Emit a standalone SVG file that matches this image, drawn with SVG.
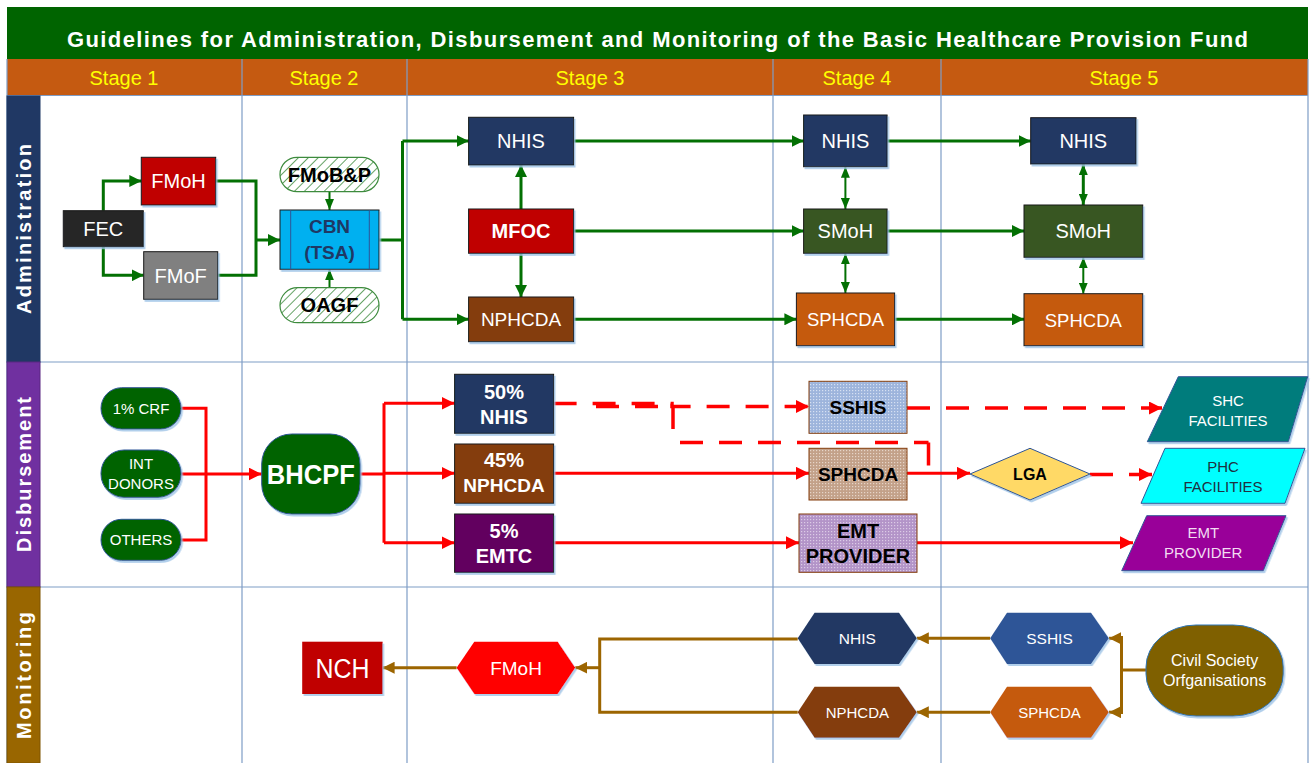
<svg xmlns="http://www.w3.org/2000/svg" width="1312" height="763" viewBox="0 0 1312 763">
<style>
text{font-family:"Liberation Sans",Arial,sans-serif;text-anchor:middle}
.w{fill:#fff}
.b{font-weight:bold}
.grid{stroke:#7F9DC6;stroke-width:1.2;fill:none}
.g{stroke:#037003;stroke-width:3;fill:none}
.gs{stroke:#037003;stroke-width:2;fill:none}
.r{stroke:#FF0000;stroke-width:3;fill:none}
.rd{stroke:#FF0000;stroke-width:3.5;fill:none;stroke-dasharray:23 16}
.br{stroke:#9C6500;stroke-width:3;fill:none}
.box{stroke:#1a1a1a;stroke-width:1;filter:url(#sh)}
.lane{font-weight:bold;font-size:20px;fill:#fff}
</style>
<defs>
<filter id="sh" x="-10%" y="-10%" width="130%" height="130%"><feDropShadow dx="1.5" dy="2" stdDeviation="0.6" flood-color="#9DC3E6" flood-opacity="0.8"/></filter>
<marker id="aG" markerUnits="userSpaceOnUse" markerWidth="12" markerHeight="12" refX="12" refY="6" orient="auto"><path d="M0,0L12,6L0,12z" fill="#037003"/></marker>
<marker id="aGs" markerUnits="userSpaceOnUse" markerWidth="11" markerHeight="9" refX="11" refY="4.5" orient="auto-start-reverse"><path d="M0,0L11,4.5L0,9z" fill="#037003"/></marker>
<marker id="aR" markerUnits="userSpaceOnUse" markerWidth="13" markerHeight="13" refX="13" refY="6.5" orient="auto"><path d="M0,0L13,6.5L0,13z" fill="#FF0000"/></marker>
<marker id="aB" markerUnits="userSpaceOnUse" markerWidth="12" markerHeight="12" refX="12" refY="6" orient="auto"><path d="M0,0L12,6L0,12z" fill="#9C6500"/></marker>
<pattern id="hatch" patternUnits="userSpaceOnUse" width="7" height="7" patternTransform="rotate(45)"><rect width="7" height="7" fill="#fff"/><line x1="0" y1="0" x2="0" y2="7" stroke="#3D8B3D" stroke-width="1.6"/></pattern>
<pattern id="pBlue" patternUnits="userSpaceOnUse" width="3" height="3"><rect width="3" height="3" fill="#9DB4DC"/><rect width="1.2" height="1.2" fill="#D6E0F2"/></pattern>
<pattern id="pTan" patternUnits="userSpaceOnUse" width="3" height="3"><rect width="3" height="3" fill="#C3A189"/><rect width="1.2" height="1.2" fill="#E6D5C8"/></pattern>
<pattern id="pLav" patternUnits="userSpaceOnUse" width="3" height="3"><rect width="3" height="3" fill="#B394C8"/><rect width="1.2" height="1.2" fill="#DCCBE6"/></pattern>
</defs>

<rect width="1312" height="763" fill="#fff"/>

<g id="frame">
<rect x="7" y="7" width="1301" height="52" fill="#006400"/>
<text x="657.5" y="47" class="w b" font-size="22" textLength="1181" lengthAdjust="spacing">Guidelines for Administration, Disbursement and Monitoring of the Basic Healthcare Provision Fund</text>
<rect x="7" y="59" width="1301" height="36" fill="#C55A11"/>
<g fill="#FFFF00" font-size="20">
<text x="124" y="85">Stage 1</text>
<text x="324" y="85">Stage 2</text>
<text x="590" y="85">Stage 3</text>
<text x="857" y="85">Stage 4</text>
<text x="1124" y="85">Stage 5</text>
</g>
<path class="grid" d="M7,95.5H1308M7,362H1308M7,587H1308M242,59V763M407,59V763M773,59V763M941,59V763M1308,59V763M7,59V763"/>
<rect x="7" y="96" width="33" height="266" fill="#203864" stroke="#1F3864"/>
<rect x="7" y="362" width="33" height="225" fill="#7030A0" stroke="#5B2682"/>
<rect x="7" y="587" width="33" height="176" fill="#996600" stroke="#7F5500"/>
<text class="lane" transform="translate(23.5,229) rotate(-90)" y="7.5" textLength="170" lengthAdjust="spacing">Administration</text>
<text class="lane" transform="translate(23.5,474.5) rotate(-90)" y="7.5" textLength="155" lengthAdjust="spacing">Disbursement</text>
<text class="lane" transform="translate(23.5,675.5) rotate(-90)" y="7.5" textLength="127" lengthAdjust="spacing">Monitoring</text>
</g>

<g id="connectors">
<path class="g" d="M103.3,210.7V181H141.3" marker-end="url(#aG)"/>
<path class="g" d="M103.3,246.7V275.3H143.7" marker-end="url(#aG)"/>
<path class="g" d="M215.7,181H256V275.3H217.7"/>
<path class="g" d="M256,240H280" marker-end="url(#aG)"/>
<path class="gs" d="M329.5,191.7V210" marker-end="url(#aGs)"/>
<path class="gs" d="M329.5,287.7V269.3" marker-end="url(#aGs)"/>
<path class="g" d="M379,240H402.5M402.5,141V319.3"/>
<path class="g" d="M402.5,141H468.6" marker-end="url(#aG)"/>
<path class="g" d="M402.5,319.3H468.6" marker-end="url(#aG)"/>
<path class="g" d="M521,209V165" marker-end="url(#aG)"/>
<path class="g" d="M521,253.3V297" marker-end="url(#aG)"/>
<path class="g" d="M573.6,141H803.6" marker-end="url(#aG)"/>
<path class="g" d="M573.6,231H803.6" marker-end="url(#aG)"/>
<path class="g" d="M573.6,319.3H796.4" marker-end="url(#aG)"/>
<path class="g" d="M887,141H1030.7" marker-end="url(#aG)"/>
<path class="g" d="M887,231H1024" marker-end="url(#aG)"/>
<path class="g" d="M894.6,319.3H1024" marker-end="url(#aG)"/>
<path class="gs" d="M845.4,166.7V209" marker-start="url(#aGs)" marker-end="url(#aGs)"/>
<path class="gs" d="M845.4,253.3V293" marker-start="url(#aGs)" marker-end="url(#aGs)"/>
<path class="g" d="M1083.3,164V205" marker-start="url(#aGs)" marker-end="url(#aGs)"/>
<path class="gs" d="M1083.3,257.3V293.7" marker-start="url(#aGs)" marker-end="url(#aGs)"/>

<path class="r" d="M181,408.3H206V540H181"/>
<path class="r" d="M181,474H261.7" marker-end="url(#aR)"/>
<path class="r" d="M360,474H384M384,403.3V542.7"/>
<path class="r" d="M384,403.3H454.6" marker-end="url(#aR)"/>
<path class="r" d="M384,473.3H454.6" marker-end="url(#aR)"/>
<path class="r" d="M384,542.7H454.6" marker-end="url(#aR)"/>
<path class="r" d="M553.6,473.3H809" marker-end="url(#aR)"/>
<path class="r" d="M553.6,542.7H799" marker-end="url(#aR)"/>
<path class="r" d="M907,473.3H970" marker-end="url(#aR)"/>
<path class="r" d="M917,542.7H1133" marker-end="url(#aR)"/>
<path class="rd" d="M553.6,403.5H672V406.5H809" marker-end="url(#aR)"/>
<path class="rd" d="M590,406.5H672" stroke-dashoffset="-6"/>
<path class="rd" d="M673,406V433"/>
<path class="rd" d="M680,442.5H928.5"/>
<path class="rd" d="M928.5,442.5V466"/>
<path class="rd" d="M907,408H1162" marker-end="url(#aR)"/>
<path class="rd" d="M1090,474.5H1152" marker-end="url(#aR)"/>

<path class="br" d="M456.6,667.7H382.6" marker-end="url(#aB)"/>
<path class="br" d="M797.7,639H599.7V712.3H797.7"/>
<path class="br" d="M599.7,667.7H575.3" marker-end="url(#aB)"/>
<path class="br" d="M990.2,638.3H916.8" marker-end="url(#aB)"/>
<path class="br" d="M990.2,712.2H916.8" marker-end="url(#aB)"/>
<path class="br" d="M1146,670H1121.5M1121.5,636V714"/>
<path class="br" d="M1121.5,638.3H1109" marker-end="url(#aB)"/>
<path class="br" d="M1121.5,712.2H1109" marker-end="url(#aB)"/>
</g>

<g id="FEC"><rect class="box" x="63.3" y="210.7" width="80" height="36" fill="#262626" stroke="#7f7f7f"/><text x="103.3" y="235.5" class="w" font-size="20">FEC</text></g>
<g id="FMoH"><rect class="box" x="141.3" y="157.3" width="74.4" height="47.7" fill="#C00000"/><text x="178.5" y="188" class="w" font-size="20">FMoH</text></g>
<g id="FMoF"><rect class="box" x="143.7" y="251.7" width="74" height="47.6" fill="#808080"/><text x="180.7" y="282.5" class="w" font-size="20">FMoF</text></g>
<g id="FMoBP"><rect x="280" y="157.3" width="99" height="34.4" rx="17" fill="url(#hatch)" stroke="#3D8B3D" stroke-width="1.2"/><text x="329.5" y="181.5" class="b" font-size="20" fill="#000">FMoB&amp;P</text></g>
<g id="CBN"><rect class="box" x="280" y="210" width="99" height="59.3" fill="#00B0F0" stroke="#2F5597"/><path d="M290.7,210V269.3M369.3,210V269.3" stroke="#2F5597" stroke-width="1"/><text x="329.5" y="233.3" class="b" font-size="19" fill="#1F3864">CBN</text><text x="329.5" y="259" class="b" font-size="19" fill="#1F3864">(TSA)</text></g>
<g id="OAGF"><rect x="280" y="287.7" width="99" height="35" rx="17.5" fill="url(#hatch)" stroke="#3D8B3D" stroke-width="1.2"/><text x="329.5" y="312" class="b" font-size="20" fill="#000">OAGF</text></g>

<g id="NHIS3"><rect class="box" x="468.6" y="117.3" width="105" height="47.7" fill="#203864"/><text x="521" y="148" class="w" font-size="20">NHIS</text></g>
<g id="MFOC"><rect class="box" x="468.6" y="209" width="105" height="44.3" fill="#C00000"/><text x="521" y="238" class="w b" font-size="20">MFOC</text></g>
<g id="NPHCDA3"><rect class="box" x="468.6" y="297" width="105" height="44.7" fill="#843C0C"/><text x="521" y="326.3" class="w" font-size="19">NPHCDA</text></g>
<g id="NHIS4"><rect class="box" x="803.6" y="115" width="83.5" height="51.7" fill="#203864"/><text x="845.4" y="148" class="w" font-size="20">NHIS</text></g>
<g id="SMoH4"><rect class="box" x="803.6" y="209" width="83.5" height="44.3" fill="#375623"/><text x="845.4" y="238" class="w" font-size="20">SMoH</text></g>
<g id="SPHCDA4"><rect class="box" x="796.4" y="293" width="98.2" height="52.7" fill="#C55A11"/><text x="845.5" y="326" class="w" font-size="18.5">SPHCDA</text></g>
<g id="NHIS5"><rect class="box" x="1030.7" y="117.7" width="105.3" height="46.3" fill="#203864"/><text x="1083.3" y="148" class="w" font-size="20">NHIS</text></g>
<g id="SMoH5"><rect class="box" x="1024" y="205" width="118.7" height="52.3" fill="#375623"/><text x="1083.3" y="238" class="w" font-size="20">SMoH</text></g>
<g id="SPHCDA5"><rect class="box" x="1024" y="293.7" width="118.7" height="52" fill="#C55A11"/><text x="1083.3" y="326.5" class="w" font-size="18.5">SPHCDA</text></g>

<g id="CRF"><rect x="101" y="387.7" width="80" height="41.3" rx="20.6" fill="#006400" stroke="#2F5597" stroke-width="1" filter="url(#sh)"/><text x="141" y="413.5" class="w" font-size="15">1% CRF</text></g>
<g id="DONORS"><rect x="101" y="450" width="80" height="47.3" rx="23" fill="#006400" stroke="#2F5597" stroke-width="1" filter="url(#sh)"/><text x="141" y="469" class="w" font-size="15">INT</text><text x="141" y="489" class="w" font-size="15">DONORS</text></g>
<g id="OTHERS"><rect x="101" y="519.3" width="80" height="41" rx="20.5" fill="#006400" stroke="#2F5597" stroke-width="1" filter="url(#sh)"/><text x="141" y="545.3" class="w" font-size="15">OTHERS</text></g>
<g id="BHCPF"><rect x="261.7" y="434" width="98.3" height="80" rx="30" fill="#006400" stroke="#2F5597" stroke-width="1" filter="url(#sh)"/><text x="310.8" y="484" class="w b" font-size="28" textLength="88" lengthAdjust="spacingAndGlyphs">BHCPF</text></g>

<g id="NHIS50"><rect class="box" x="454.6" y="374.3" width="99" height="59" fill="#203864"/><text x="504" y="398.5" class="w b" font-size="20">50%</text><text x="504" y="423.7" class="w b" font-size="20">NHIS</text></g>
<g id="NPHCDA45"><rect class="box" x="454.6" y="444" width="99" height="59.3" fill="#843C0C"/><text x="504" y="467" class="w b" font-size="20">45%</text><text x="504" y="492" class="w b" font-size="19">NPHCDA</text></g>
<g id="EMTC5"><rect class="box" x="454.6" y="514" width="99" height="58.3" fill="#62005F"/><text x="504" y="537.7" class="w b" font-size="20">5%</text><text x="504" y="563" class="w b" font-size="20">EMTC</text></g>
<g id="SSHIS"><rect x="809" y="381.3" width="98" height="52" fill="url(#pBlue)" stroke="#843C0C" stroke-width="1"/><text x="858" y="414" class="b" font-size="19" fill="#000">SSHIS</text></g>
<g id="SPHCDAd"><rect x="809" y="448.3" width="98" height="51.7" fill="url(#pTan)" stroke="#843C0C" stroke-width="1"/><text x="858" y="481" class="b" font-size="19" fill="#000">SPHCDA</text></g>
<g id="EMTPROV"><rect x="799" y="514" width="118" height="58.3" fill="url(#pLav)" stroke="#843C0C" stroke-width="1"/><text x="858" y="537.7" class="b" font-size="20" fill="#000">EMT</text><text x="858" y="563" class="b" font-size="20" fill="#000">PROVIDER</text></g>
<g id="LGA"><polygon points="970,474 1030,448.3 1090,474 1030,500" fill="#FFD966" stroke="#2F5597" stroke-width="1" filter="url(#sh)"/><text x="1030" y="480" class="b" font-size="16" fill="#000">LGA</text></g>
<g id="SHC"><polygon points="1178.3,376.7 1307.7,376.7 1288.3,441.7 1147.3,441.7" fill="#007B7B" stroke="#2F5597" stroke-width="1" filter="url(#sh)"/><text x="1228" y="405.5" class="w" font-size="15">SHC</text><text x="1228" y="425.5" class="w" font-size="15">FACILITIES</text></g>
<g id="PHC"><polygon points="1165,448.3 1305,448.3 1285,503.3 1141,503.3" fill="#00FFFF" stroke="#2F5597" stroke-width="1" filter="url(#sh)"/><text x="1223" y="471.5" font-size="15" fill="#1F3040">PHC</text><text x="1223" y="491.5" font-size="15" fill="#1F3040">FACILITIES</text></g>
<g id="EMTP"><polygon points="1146.7,515.7 1286,515.7 1263.3,570.7 1121.7,570.7" fill="#990099" stroke="#2F5597" stroke-width="1" filter="url(#sh)"/><text x="1203.3" y="537.8" font-size="15" fill="#F2DDF2">EMT</text><text x="1203.3" y="558" font-size="15" fill="#F2DDF2">PROVIDER</text></g>

<g id="NCH"><rect x="302.2" y="641.7" width="80.4" height="52.3" fill="#C00000" filter="url(#sh)"/><text x="342.4" y="677.5" class="w" font-size="27" textLength="54" lengthAdjust="spacingAndGlyphs">NCH</text></g>
<g id="FMoHm"><polygon points="456.6,667.7 474.3,641.7 557.7,641.7 575.3,667.7 557.7,694 474.3,694" fill="#FF0000" filter="url(#sh)"/><text x="516" y="674.5" class="w" font-size="19">FMoH</text></g>
<g id="NHISm"><polygon points="797.7,638.3 814.6,612.7 899,612.7 916.8,638.3 899,664 814.6,664" fill="#203864" filter="url(#sh)"/><text x="857.3" y="643.8" class="w" font-size="15.5">NHIS</text></g>
<g id="NPHCDAm"><polygon points="797.7,712.2 814.6,686.7 899,686.7 916.8,712.2 899,737.7 814.6,737.7" fill="#843C0C" filter="url(#sh)"/><text x="857.3" y="717.7" class="w" font-size="15">NPHCDA</text></g>
<g id="SSHISm"><polygon points="990.2,638.3 1007,612.7 1091,612.7 1108.8,638.3 1091,664 1007,664" fill="#2F5597" filter="url(#sh)"/><text x="1049.5" y="643.8" class="w" font-size="15.5">SSHIS</text></g>
<g id="SPHCDAm"><polygon points="990.2,712.2 1007,686.7 1091,686.7 1108.8,712.2 1091,737.7 1007,737.7" fill="#C55A11" filter="url(#sh)"/><text x="1049.5" y="717.7" class="w" font-size="15">SPHCDA</text></g>
<g id="CSO"><rect x="1146" y="625" width="137.2" height="91" rx="50" ry="42" fill="#7F6000" stroke="#2E75B6" stroke-width="1" filter="url(#sh)"/><text x="1214.6" y="666" class="w" font-size="16">Civil Society</text><text x="1214.6" y="686" class="w" font-size="16">Orfganisations</text></g>
</svg>
